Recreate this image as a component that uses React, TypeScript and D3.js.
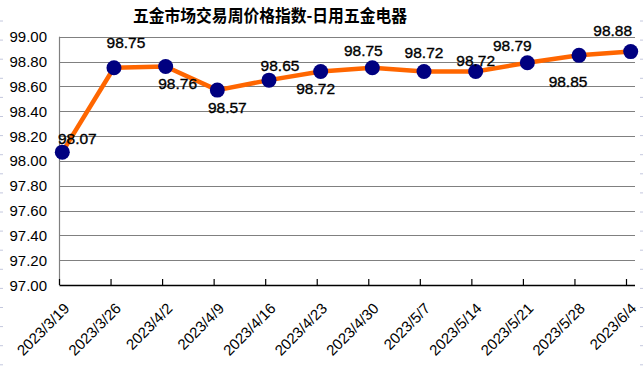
import React from "react";
import * as d3 from "d3";

const categories = ["2023/3/19","2023/3/26","2023/4/2","2023/4/9","2023/4/16","2023/4/23","2023/4/30","2023/5/7","2023/5/14","2023/5/21","2023/5/28","2023/6/4"];
const values = [98.07, 98.75, 98.76, 98.57, 98.65, 98.72, 98.75, 98.72, 98.72, 98.79, 98.85, 98.88];
const yTicks = [97.0, 97.2, 97.4, 97.6, 97.8, 98.0, 98.2, 98.4, 98.6, 98.8, 99.0];
const title = "五金市场交易周价格指数-日用五金电器";
// label placement relative to point (style only)
const labelOffsets: [number, number][] = [
  [15, -14], [12, -25], [12, 17], [10, 17], [11, -15], [-5, 17],
  [-9, -17], [0, -19], [0, -11], [-15, -17], [-11, 26], [-18, -21],
];

const W = 643, H = 368;
const left = 59.5, right = 635, top = 36.7, bottom = 285;

export default function App() {
  const y = d3.scaleLinear().domain([97, 99]).range([bottom, top]);
  const xTick = d3.scalePoint<string>().domain(categories).range([59.5, 626.5]);
  const xPt = d3.scalePoint<string>().domain(categories).range([62.3, 630.7]);
  const line = d3.line<number>().x((_, i) => xPt(categories[i])!).y((d) => y(d));
  const dashes = d3.range(0, 19).map((k) => 21 + 19.1 * k);
  const font = "'Liberation Sans', Arial, sans-serif";
  return (
    <svg width={W} height={H} style={{ position: "absolute", left: 0, top: 0, background: "#fff" }}>
      {dashes.map((d, i) => (
        <g key={i}>
          <line x1={0} x2={3} y1={d} y2={d} stroke="#c4c8de" />
          <line x1={640} x2={643} y1={d} y2={d} stroke="#c4c8de" />
        </g>
      ))}
      <text x={270} y={14} textAnchor="middle" dominantBaseline="central" fontFamily="'Noto Sans CJK SC', sans-serif" fontWeight="bold" fontSize={17.5} textLength={274} lengthAdjust="spacingAndGlyphs" fill="#000">{title}</text>
      {yTicks.map((t) => (
        <g key={t}>
          {t > 97 && <line x1={left} x2={right} y1={Math.round(y(t)) + 0.5} y2={Math.round(y(t)) + 0.5} stroke="#808080" strokeWidth={1.2} />}
          <text x={47} y={y(t)} textAnchor="end" dominantBaseline="central" fontFamily={font} fontSize={15} fill="#000">{t.toFixed(2)}</text>
        </g>
      ))}
      <line x1={left} x2={left} y1={top} y2={bottom} stroke="#808080" strokeWidth={1.2} />
      <line x1={left} x2={right} y1={bottom + 0.5} y2={bottom + 0.5} stroke="#000" strokeWidth={1.3} />
      {categories.map((c) => (
        <g key={c}>
          <line x1={xTick(c)!} x2={xTick(c)!} y1={bottom} y2={bottom - 6} stroke="#000" strokeWidth={1.2} />
          <text transform={`translate(${xTick(c)! + 7},305.5) rotate(-45)`} textAnchor="end" dominantBaseline="central" fontFamily={font} fontSize={15} fill="#000">{c}</text>
        </g>
      ))}
      <path d={line(values)!} fill="none" stroke="#ff6600" strokeWidth={4.5} strokeLinejoin="round" />
      {values.map((v, i) => (
        <circle key={i} cx={xPt(categories[i])!} cy={y(v)} r={7.5} fill="#000080" />
      ))}
      {values.map((v, i) => (
        <text key={i} x={xPt(categories[i])! + labelOffsets[i][0]} y={y(v) + labelOffsets[i][1]} textAnchor="middle" dominantBaseline="central" fontFamily={font} fontSize={15.5} fill="#000" stroke="#000" strokeWidth={0.35}>{v.toFixed(2)}</text>
      ))}
    </svg>
  );
}
